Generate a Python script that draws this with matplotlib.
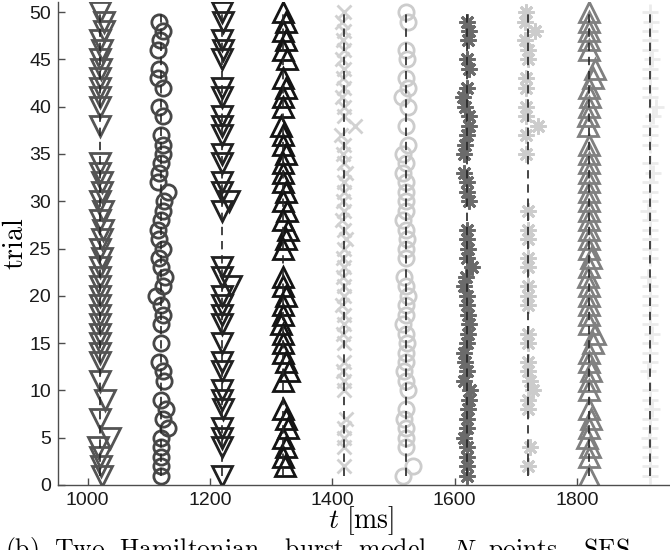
import matplotlib
matplotlib.use('Agg')
import matplotlib.pyplot as plt

plt.rcParams['mathtext.fontset'] = 'cm'

# column centres (ms)
centres = [1020, 1120, 1220, 1320, 1420, 1520, 1620, 1720, 1820, 1920]

# trials with a spike in each column
c1_trials = [50, 49, 48, 47, 46, 45, 44, 43, 42, 41, 40, 38, 34, 33, 32, 31, 30, 29, 28, 27,
             26, 25, 24, 23, 22, 21, 20, 19, 18, 17, 16, 15, 14, 13, 11, 9, 7, 5, 4, 3, 2, 1]
c2_trials = [49, 48, 47, 46, 44, 43, 42, 40, 39, 37, 36, 35, 34, 33, 32, 31, 30, 29, 28, 27,
             26, 25, 24, 23, 22, 21, 20, 19, 18, 17, 15, 13, 12, 11, 9, 8, 7, 6, 5, 4, 3, 2, 1]
c3_trials = [50, 49, 47, 46, 45, 42, 41, 39, 38, 37, 35, 34, 32, 31, 30, 29, 23, 22, 21, 20,
             19, 18, 17, 15, 13, 12, 10, 9, 8, 6, 5, 4, 1]
c4_trials = [50, 49, 48, 47, 46, 45, 43, 42, 41, 40, 38, 37, 36, 35, 34, 33, 32, 31, 30, 29,
             28, 27, 26, 25, 22, 21, 20, 19, 18, 17, 16, 15, 14, 13, 12, 11, 8, 7, 6, 5, 4, 3, 2]
c5_trials = [50, 49, 48, 47, 46, 45, 44, 43, 42, 41, 40, 39, 38, 37, 36, 35, 34, 33, 32, 31,
             30, 29, 28, 27, 26, 25, 24, 23, 22, 21, 20, 19, 18, 17, 16, 15, 13, 12, 11, 10,
             7, 6, 5, 4, 2]
c6_trials = [50, 49, 46, 45, 43, 42, 41, 40, 38, 36, 35, 34, 33, 32, 31, 30, 29, 28, 27, 26,
             25, 24, 22, 21, 20, 19, 18, 17, 16, 15, 14, 13, 12, 11, 10, 8, 7, 6, 5, 4, 2, 1]
c7_trials = [49, 48, 47, 45, 44, 42, 41, 40, 39, 38, 37, 36, 35, 33, 32, 31, 30, 27, 26, 25,
             24, 23, 22, 21, 20, 19, 18, 17, 16, 15, 14, 13, 12, 11, 10, 9, 8, 7, 6, 5, 4, 3, 2, 1]
c8_trials = [50, 49, 48, 47, 46, 45, 43, 42, 40, 39, 38, 37, 35, 29, 27, 26, 24, 23, 21, 20,
             19, 16, 15, 13, 12, 11, 10, 9, 8, 4, 2]
c9_trials = [50, 49, 48, 47, 46, 44, 43, 42, 41, 40, 39, 38, 36, 35, 34, 33, 32, 31, 30, 29,
             28, 27, 26, 25, 24, 23, 22, 21, 20, 19, 18, 17, 16, 15, 14, 13, 12, 11, 10,
             8, 7, 6, 5, 4, 3, 1]
c10_trials = [50, 49, 48, 47, 46, 45, 44, 43, 42, 41, 40, 39, 38, 37, 36, 34, 33, 32, 31, 30,
              29, 28, 27, 26, 25, 24, 22, 21, 20, 19, 18, 17, 16, 15, 14, 13, 12, 10, 9, 8,
              7, 6, 5, 4, 3, 2, 1]

# spike time jitter around the column centre (ms), trial -> offset
c1_jit = {49: 6, 48: 7, 46: 3, 44: 2, 32: 4, 31: 3, 29: 5, 27: 5, 26: 3, 24: 4, 9: 8, 5: 16, 4: -3, 2: 2, 1: 3}
c2_jit = {49: -3, 48: 3, 47: -1, 46: -5, 44: -3, 43: -5, 42: 3, 40: -3, 39: 3, 36: 3, 35: 3,
          33: -3, 32: -5, 31: 11, 30: 5, 29: 3, 27: -5, 26: -3, 25: 3, 24: -3, 22: 6, 21: 3,
          20: -8, 18: 3, 13: -3, 12: 3, 11: 5, 8: 8, 7: 3, 6: 11}
c3_jit = {49: 2, 46: 2, 30: 12, 21: 15, 8: 2}
c4_jit = {49: 4, 47: 5, 45: 6, 42: 4, 38: -3, 35: 4, 31: 5, 29: 6, 27: 8, 26: 4, 20: 5,
          17: -3, 13: 5, 12: 10, 7: 5, 6: 8, 4: 4, 2: 3}
c5_jit = {49: -4, 47: -3, 45: -4, 43: -3, 41: -4, 38: 18, 37: -5, 35: -3, 33: 3, 30: -3,
          28: -4, 26: 3, 24: -3, 22: -3, 19: -4, 16: -3, 12: -3, 7: 2}
c6_jit = {49: 4, 45: 2, 42: 4, 41: -6, 40: 4, 36: 4, 35: -4, 33: -4, 28: -4, 26: 3,
          22: -3, 20: 4, 17: -4, 15: 3, 12: -3, 10: 4, 7: -3, 2: 12, 1: -4}
c7_jit = {48: 3, 47: 2, 44: 4, 41: -6, 40: -3, 39: 4, 38: 3, 36: -3, 35: -4, 33: -4, 30: 3,
          25: 2, 23: 8, 22: -2, 21: -4, 18: 2, 17: 4, 16: 2, 14: -4, 13: -3, 11: -4,
          10: 5, 9: 4, 8: 2, 5: -4}
c8_jit = {50: -3, 49: -5, 48: 11, 47: -5, 43: -3, 42: -3, 40: -3, 39: -3, 38: 17, 37: -3,
          35: -3, 11: 3, 10: 8, 4: 3}
c9_jit = {44: 9, 43: 6, 41: 2, 39: -2, 38: -2, 24: 3, 22: -2, 16: 9, 15: 6, 12: 3, 7: 3,
          5: -3, 4: 2}
c10_jit = {49: 2, 45: 3, 40: 10, 39: 5, 33: 4, 29: -3, 22: -4, 16: 3, 12: -4, 8: 3, 5: -2}

all_trials = [c1_trials, c2_trials, c3_trials, c4_trials, c5_trials,
              c6_trials, c7_trials, c8_trials, c9_trials, c10_trials]
all_jit = [c1_jit, c2_jit, c3_jit, c4_jit, c5_jit, c6_jit, c7_jit, c8_jit, c9_jit, c10_jit]

# marker style per column
markers = ['v', 'o', 'v', '^', 'x', 'o', (8, 2, 0), (8, 2, 0), '^', '+']
sizes = [14.5, 11, 14.5, 14.5, 10, 11, 11.5, 11.5, 14.5, 11]
greys = [0.33, 0.28, 0.13, 0.08, 0.82, 0.80, 0.42, 0.80, 0.50, 0.92]

fig = plt.figure(figsize=(6.7, 5.5), dpi=100)
ax = fig.add_axes([0.0866, 0.1182, 0.9134, 0.878])

for c, tr, jit, m, s, g in zip(centres, all_trials, all_jit, markers, sizes, greys):
    times = [c + jit.get(t, 0) for t in tr]
    ax.plot(times, tr, ls='none', marker=m, ms=s, mfc='none',
            mec=(g, g, g), mew=2.0, zorder=2)
    ax.plot([c, c], [1, 50], color='0.15', lw=1.2, ls='--', dashes=(5, 3.5), zorder=3)

ax.set_xlim(951.6, 1952.4)
ax.set_ylim(0, 51.06)
ax.set_xticks([1000, 1200, 1400, 1600, 1800])
ax.set_yticks([0, 5, 10, 15, 20, 25, 30, 35, 40, 45, 50])

for sp in ['top', 'right']:
    ax.spines[sp].set_visible(False)
for sp in ['left', 'bottom']:
    ax.spines[sp].set_color('0.3')
    ax.spines[sp].set_linewidth(1.0)

ax.tick_params(direction='in', length=5, width=1, color='0.3', labelsize=14, pad=5)
for lab in ax.get_xticklabels() + ax.get_yticklabels():
    lab.set_family('Liberation Sans')
    lab.set_color('0.1')

ax.set_ylabel(r'$\mathrm{trial}$', fontsize=20, labelpad=0)
fig.text(361 / 670, 1 - 521 / 550, r'$t\ [\mathrm{ms}]$', fontsize=20, ha='center', va='center')

fig.text(0.008, -0.012,
         r'$\mathrm{(b)\ \ Two\ \ Hamiltonian,\ \ burst\ \ model,}\ \ N\ \ \mathrm{points,\ \ SES}$',
         fontsize=18.5, va='baseline', ha='left')

fig.savefig('out.png', dpi=100)
